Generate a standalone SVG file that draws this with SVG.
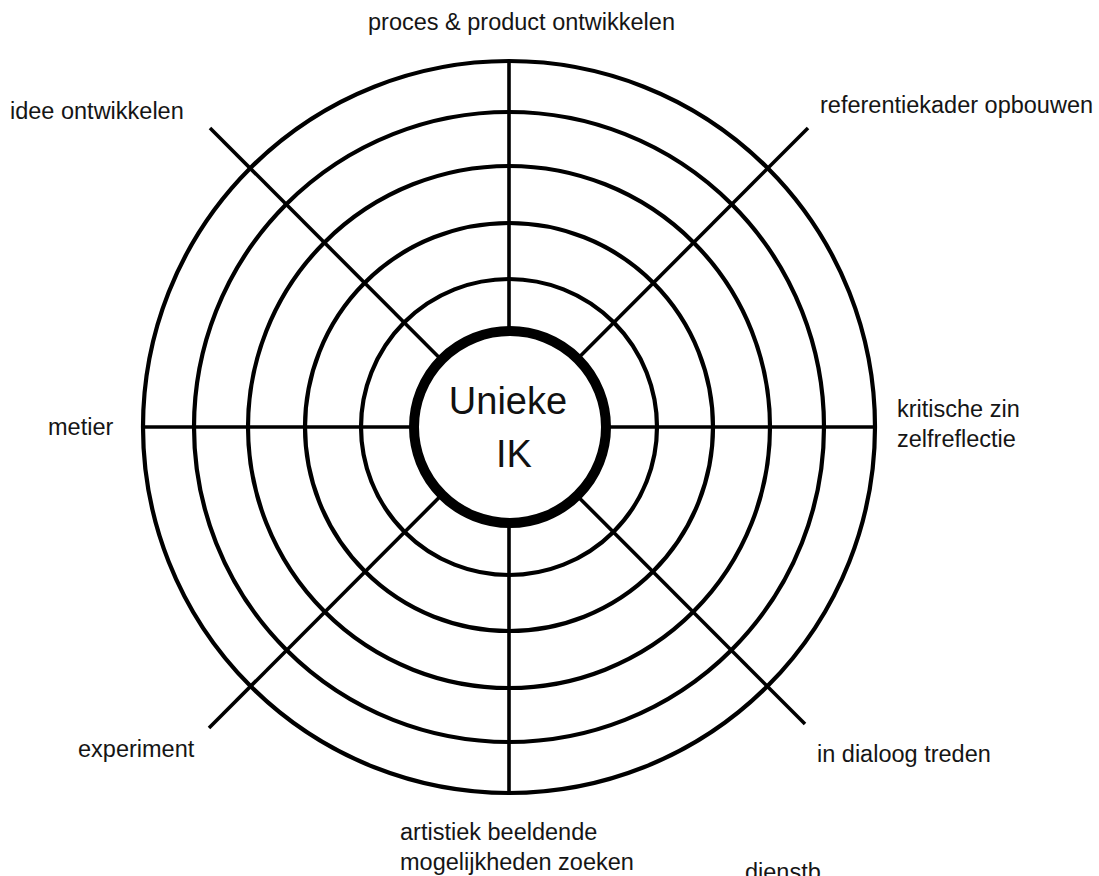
<svg xmlns="http://www.w3.org/2000/svg" width="1099" height="876" viewBox="0 0 1099 876">
<style>
.ring{fill:none;stroke:#000;stroke-width:4.2}
.spoke{stroke:#000;stroke-width:3.6;stroke-linecap:butt}
.lbl{font-family:"Liberation Sans",Arial,Helvetica,sans-serif;font-size:23.5px;fill:#151515}
.core{font-family:"Liberation Sans",Arial,Helvetica,sans-serif;font-size:38px;fill:#111;text-anchor:middle}
</style>
<rect width="1099" height="876" fill="#fff"/>
<g id="rings">
<circle class="ring" cx="509" cy="427" r="366"/>
<circle class="ring" cx="509" cy="427" r="315"/>
<circle class="ring" cx="509" cy="427" r="261"/>
<circle class="ring" cx="509" cy="427" r="204"/>
<circle class="ring" cx="509" cy="427" r="148"/>
</g>
<g id="connectors">
<line class="spoke" x1="509" y1="61" x2="509" y2="793"/>
<line class="spoke" x1="143" y1="427" x2="875" y2="427"/>
<line class="spoke" x1="210" y1="128" x2="805" y2="724"/>
<line class="spoke" x1="808" y1="128" x2="209" y2="728"/>
</g>
<g id="node-center">
<circle cx="510" cy="427" r="96" fill="#fff" stroke="#000" stroke-width="10"/>
<text class="core" x="508" y="414">Unieke</text>
<text class="core" x="514" y="467">IK</text>
</g>
<g id="node-proces"><text class="lbl" x="368" y="30">proces &amp; product ontwikkelen</text></g>
<g id="node-idee"><text class="lbl" x="10" y="119">idee ontwikkelen</text></g>
<g id="node-referentiekader"><text class="lbl" x="820" y="113">referentiekader opbouwen</text></g>
<g id="node-metier"><text class="lbl" x="48" y="435">metier</text></g>
<g id="node-kritische"><text class="lbl" x="897" y="417">kritische zin</text><text class="lbl" x="897" y="447">zelfreflectie</text></g>
<g id="node-experiment"><text class="lbl" x="78" y="757">experiment</text></g>
<g id="node-dialoog"><text class="lbl" x="817" y="762">in dialoog treden</text></g>
<g id="node-artistiek"><text class="lbl" x="400" y="840">artistiek beeldende</text><text class="lbl" x="400" y="870">mogelijkheden zoeken</text></g>
<g id="node-dienstbaar"><text class="lbl" x="745" y="880">dienstb</text></g>
</svg>
